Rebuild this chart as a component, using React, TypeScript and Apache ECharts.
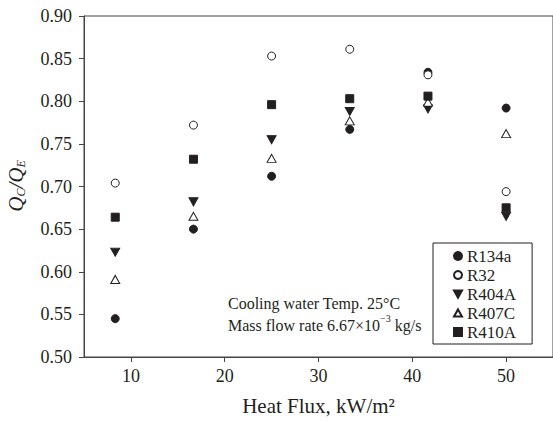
import React, { useEffect, useRef } from "react";
import * as echarts from "echarts";

const heatFlux = [8.33, 16.67, 25, 33.33, 41.67, 50];
const r134a = [0.545, 0.65, 0.712, 0.767, 0.834, 0.792];
const r32 = [0.704, 0.772, 0.853, 0.861, 0.831, 0.694];
const r404a = [0.623, 0.682, 0.755, 0.788, 0.791, 0.665];
const r407c = [0.591, 0.665, 0.733, 0.777, 0.799, 0.762];
const r410a = [0.664, 0.732, 0.796, 0.803, 0.806, 0.675];
const xTicks = [10, 20, 30, 40, 50];

const FONT = "Liberation Serif";
const INK = "#231f20";
const DOWN = "path://M0,0 L10,0 L5,9 Z";
const UP = "path://M5,0 L10,9 L0,9 Z";

export default function App() {
  const ref = useRef<HTMLDivElement>(null);
  useEffect(() => {
    if (!ref.current) return;
    const chart = echarts.init(ref.current, null, { renderer: "svg" });
    const pts = (ys: number[]) => heatFlux.map((x, i) => [x, ys[i]]);
    const filled = { color: INK, borderColor: INK, borderWidth: 1, opacity: 1 };
    const open = { color: "#fff", borderColor: INK, borderWidth: 1, opacity: 1 };
    chart.setOption({
      animation: false,
      backgroundColor: "#fff",
      textStyle: { fontFamily: FONT, color: INK },
      grid: { left: 84, top: 16, right: -3, bottom: 64, show: true, borderColor: "#444", borderWidth: 1 },
      xAxis: {
        type: "value",
        min: 5,
        max: 55,
        axisLine: { show: true, lineStyle: { color: "#444" } },
        axisTick: { show: true, length: 5, customValues: xTicks, lineStyle: { color: "#444" } },
        axisLabel: { customValues: xTicks, fontFamily: FONT, fontSize: 18, color: INK, margin: 10 },
        splitLine: { show: false },
        name: "Heat Flux, kW/m\u00B2",
        nameLocation: "middle",
        nameGap: 38,
        nameTextStyle: { fontFamily: FONT, fontSize: 21, color: INK },
      },
      yAxis: {
        type: "value",
        min: 0.5,
        max: 0.9,
        interval: 0.05,
        axisLine: { show: true, lineStyle: { color: "#444" } },
        axisTick: { show: true, length: 5, lineStyle: { color: "#444" } },
        axisLabel: { fontFamily: FONT, fontSize: 18, color: INK, margin: 12, formatter: (v: number) => v.toFixed(2) },
        splitLine: { show: false },
      },
      legend: {
        orient: "vertical",
        left: 433,
        top: 243,
        borderColor: INK,
        borderWidth: 1,
        padding: [4, 16, 3, 20],
        itemGap: 1,
        itemWidth: 8,
        itemHeight: 8,
        textStyle: { fontFamily: FONT, fontSize: 17, lineHeight: 18, color: INK, padding: [0, 0, 0, 0] },
        data: ["R134a", "R32", "R404A", "R407C", "R410A"],
      },
      series: [
        { name: "R134a", type: "scatter", symbol: "circle", symbolSize: 8, itemStyle: filled, data: pts(r134a) },
        { name: "R32", type: "scatter", symbol: "circle", symbolSize: 8, itemStyle: open, data: pts(r32) },
        { name: "R404A", type: "scatter", symbol: DOWN, symbolSize: [9, 8], itemStyle: filled, data: pts(r404a) },
        { name: "R407C", type: "scatter", symbol: UP, symbolSize: [9, 8], itemStyle: open, data: pts(r407c) },
        { name: "R410A", type: "scatter", symbol: "rect", symbolSize: 8, itemStyle: filled, data: pts(r410a) },
      ],
      graphic: [
        {
          type: "text",
          x: 16,
          y: 186,
          rotation: Math.PI / 2,
          style: {
            text: "{q|Q}{s|C}{q|/Q}{s|E}",
            align: "center",
            verticalAlign: "middle",
            fill: INK,
            rich: {
              q: { fontFamily: FONT, fontStyle: "italic", fontSize: 21, fill: INK, verticalAlign: "middle" },
              s: { fontFamily: FONT, fontStyle: "italic", fontSize: 12, fill: INK, verticalAlign: "bottom", padding: [10, 0, 0, 0] },
            },
          },
        },
        {
          type: "text",
          left: 228,
          top: 295,
          style: { text: "Cooling water Temp. 25\u00B0C", fontFamily: FONT, fontSize: 16, fill: INK },
        },
        {
          type: "text",
          left: 228,
          top: 313,
          style: {
            text: "{n|Mass flow rate 6.67\u00D710}{u|\u2212}{u|3}{n| kg/s}",
            rich: {
              n: { fontFamily: FONT, fontSize: 16, fill: INK, lineHeight: 20, verticalAlign: "bottom" },
              u: { fontFamily: FONT, fontSize: 10, fill: INK, lineHeight: 20, verticalAlign: "top" },
            },
          },
        },
      ],
    });
    return () => chart.dispose();
  }, []);
  return (
    <div style={{ position: "fixed", left: 0, top: 0, width: 553, height: 421, overflow: "hidden", background: "#fff" }}>
      <div ref={ref} style={{ width: 553, height: 421 }} />
    </div>
  );
}
